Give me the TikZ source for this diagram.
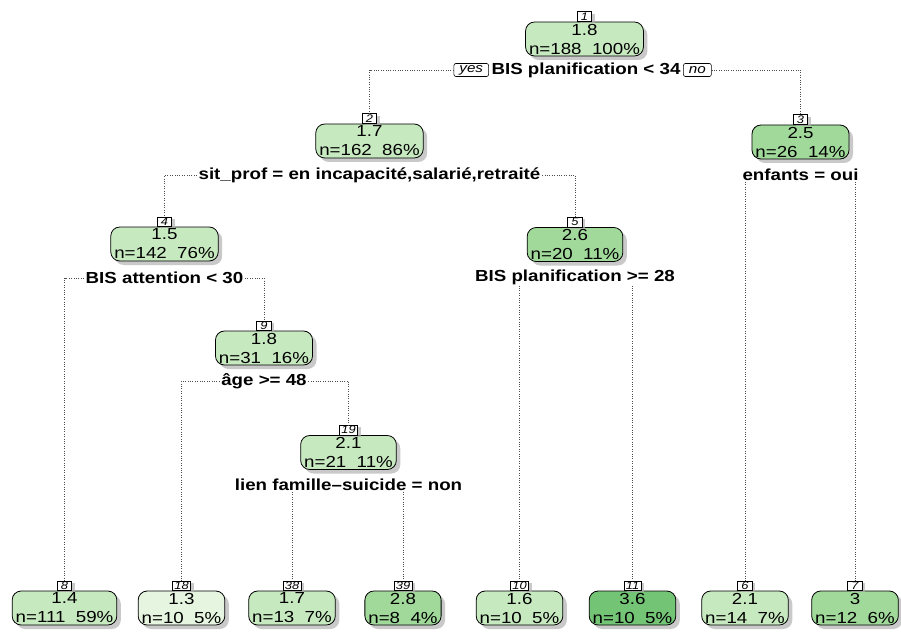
\documentclass[tikz,border=0pt]{standalone}
\usepackage{fontspec}
\setmainfont[FakeStretch=1.17]{Liberation Sans}
\usetikzlibrary{shadows}
\definecolor{gA}{HTML}{E5F5E0}
\definecolor{gB}{HTML}{C7E9C0}
\definecolor{gC}{HTML}{A1D99B}
\definecolor{gD}{HTML}{74C476}
\begin{document}
\begin{tikzpicture}[x=1pt,y=-1pt,
  tn/.style={draw=black, line width=0.8pt, rounded corners=9pt, align=center,
    inner xsep=3.5pt, inner ysep=0pt, minimum height=34pt,
    font=\fontsize{16}{19}\selectfont,
    execute at begin node={\rule{0pt}{15pt}},
    drop shadow={shadow xshift=4pt, shadow yshift=-4pt, fill=black!30, opacity=0.7}},
  numlab/.style={draw=black, line width=0.6pt, fill=white, inner xsep=2pt, inner ysep=0.5pt,
    minimum width=14.5pt, minimum height=9.5pt, font=\fontsize{11}{11}\selectfont\itshape,
    drop shadow={shadow xshift=3pt, shadow yshift=-2pt, fill=black!30, opacity=0.7}},
  split/.style={inner xsep=1.5pt, inner ysep=1pt, font=\fontsize{16}{17}\selectfont\bfseries},
  yn/.style={draw=black, line width=0.6pt, rounded corners=2pt, fill=white, inner xsep=5.5pt, inner ysep=0.5pt,
    minimum height=13pt, font=\fontsize{13}{13}\selectfont\itshape},
  conn/.style={draw=black!70, line width=0.8pt, dash pattern=on 0.8pt off 1.6pt}
]
\useasboundingbox (0,0) rectangle (901,631);

% internal nodes
\node[tn, fill=gB] (n1) at (584.5,39) {1.8\\n=188\ \ 100\%};
\node[tn, fill=gB] (n2) at (369.5,141) {1.7\\n=162\ \ 86\%};
\node[tn, fill=gC] (n3) at (800.5,142) {2.5\\n=26\ \ 14\%};
\node[tn, fill=gB] (n4) at (164.5,244) {1.5\\n=142\ \ 76\%};
\node[tn, fill=gC] (n5) at (575,244.5) {2.6\\n=20\ \ 11\%};
\node[tn, fill=gB] (n9) at (264,348) {1.8\\n=31\ \ 16\%};
\node[tn, fill=gB] (n19) at (348.5,452.5) {2.1\\n=21\ \ 11\%};

% leaves
\node[tn, fill=gB] (n8) at (64.5,608) {1.4\\n=111\ \ 59\%};
\node[tn, fill=gA] (n18) at (181.5,608) {1.3\\n=10\ \ 5\%};
\node[tn, fill=gB] (n38) at (292,608) {1.7\\n=13\ \ 7\%};
\node[tn, fill=gC] (n39) at (403,608) {2.8\\n=8\ \ 4\%};
\node[tn, fill=gB] (n10) at (519.5,608) {1.6\\n=10\ \ 5\%};
\node[tn, fill=gD] (n11) at (632.5,608) {3.6\\n=10\ \ 5\%};
\node[tn, fill=gB] (n6) at (745,608) {2.1\\n=14\ \ 7\%};
\node[tn, fill=gC] (n7) at (855,608) {3\\n=12\ \ 6\%};

% number labels
\foreach \k in {1,2,3,4,5,9,19,8,18,38,39,10,11,6,7}{
  \node[numlab, anchor=south] (l\k) at (n\k.north) {\k};
}

% split labels
\node[split] (s1) at (586,70) {BIS planification < 34};
\node[yn, anchor=east] (yes) at ([xshift=-1pt]s1.west) {yes};
\node[yn, anchor=west] (no) at ([xshift=1pt]s1.east) {no};
\node[split] (s2) at (369.5,175) {sit\_prof = en incapacité,salarié,retraité};
\node[split] (s3) at (800.5,175) {enfants = oui};
\node[split] (s4) at (164.5,278) {BIS attention < 30};
\node[split] (s5) at (575,277) {BIS planification >= 28};
\node[split] (s9) at (264,381) {âge >= 48};
\node[split] (s19) at (348.5,485) {lien famille\textendash suicide = non};

% connectors
\draw[conn] (yes.west) -| (l2.north);
\draw[conn] (no.east) -| (l3.north);
\draw[conn] (s2.west) -| (l4.north);
\draw[conn] (s2.east) -| (l5.north);
\draw[conn] (s3.south -| l6.north) -- (l6.north);
\draw[conn] (s3.south -| l7.north) -- (l7.north);
\draw[conn] (s4.west) -| (l8.north);
\draw[conn] (s4.east) -| (l9.north);
\draw[conn] (s5.south -| l10.north) -- (l10.north);
\draw[conn] (s5.south -| l11.north) -- (l11.north);
\draw[conn] (s9.west) -| (l18.north);
\draw[conn] (s9.east) -| (l19.north);
\draw[conn] (s19.south -| l38.north) -- (l38.north);
\draw[conn] (s19.south -| l39.north) -- (l39.north);
\end{tikzpicture}
\end{document}
